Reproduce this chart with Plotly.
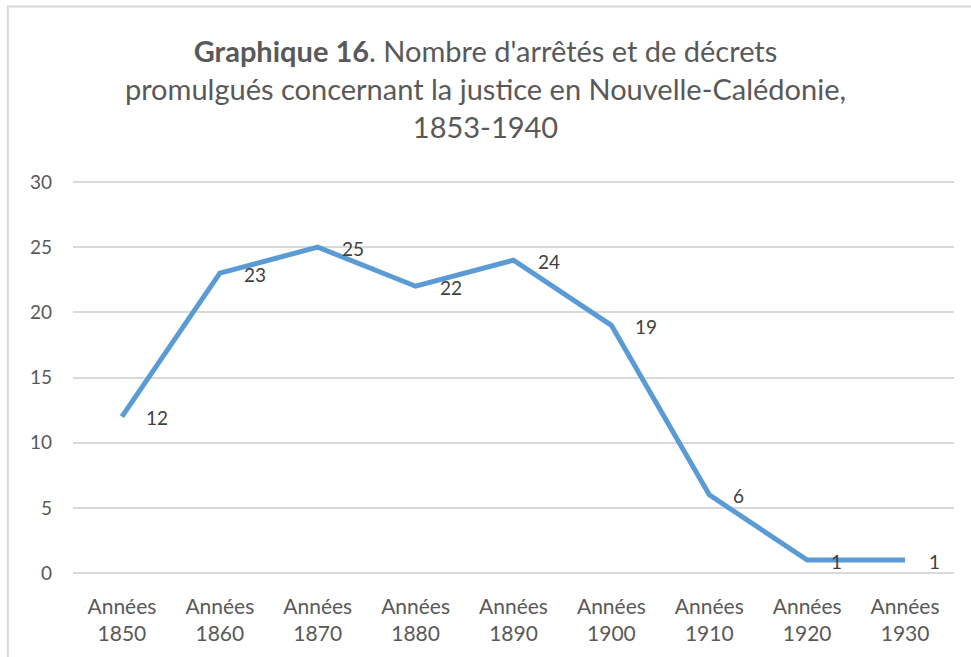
import plotly.graph_objects as go

# data
decades = ["Années<br>1850", "Années<br>1860", "Années<br>1870", "Années<br>1880", "Années<br>1890",
           "Années<br>1900", "Années<br>1910", "Années<br>1920", "Années<br>1930"]
counts = [12, 23, 25, 22, 24, 19, 6, 1, 1]
y_ticks = [0, 5, 10, 15, 20, 25, 30]

font_name = "Lato, 'Open Sans', sans-serif"
grey_txt = "#595959"

fig = go.Figure()
fig.add_trace(go.Scatter(x=decades, y=counts, mode="lines",
                         line=dict(color="#5B9BD5", width=5),
                         hoverinfo="x+y", showlegend=False))

# data labels to the right of each point
for d, c in zip(decades, counts):
    fig.add_annotation(x=d, y=c, text=str(c), showarrow=False,
                       xanchor="left", yanchor="middle", xshift=22, yshift=-1,
                       font=dict(size=19, color="#404040", family=font_name))

# light frame around the chart (cropped on right/bottom like the source)
fig.add_shape(type="rect", xref="paper", yref="paper",
              x0=-0.074, x1=1.04, y0=-0.3, y1=1.43,
              line=dict(color="#d9d9d9", width=2), fillcolor="rgba(0,0,0,0)", layer="below")

fig.update_layout(
    width=971, height=657,
    margin=dict(l=73, r=17, t=178, b=80),
    paper_bgcolor="white", plot_bgcolor="white",
    font=dict(family=font_name, color=grey_txt),
    title=dict(
        text="<b>Graphique 16</b>. Nombre d'arrêtés et de décrets<br>"
             "promulgués concernant la justice en Nouvelle-Calédonie,<br>1853-1940",
        x=0.5, xanchor="center", y=0.905, yanchor="middle",
        font=dict(size=29, color=grey_txt, family=font_name)),
    xaxis=dict(range=[-0.5, 8.5], showgrid=False, showline=False, zeroline=False, automargin=False,
               tickfont=dict(size=21, color=grey_txt), ticks="", ticklabelstandoff=15),
    yaxis=dict(range=[-0.3, 30.3], tickvals=y_ticks, showgrid=True, gridcolor="#d9d9d9", gridwidth=1.5,
               zeroline=False, showline=False, automargin=False, tickfont=dict(size=19, color=grey_txt),
               ticks="", ticklabelstandoff=20),
)

fig.write_html("out.html", config={"displayModeBar": False},
               post_script="document.body.style.margin='0';")
